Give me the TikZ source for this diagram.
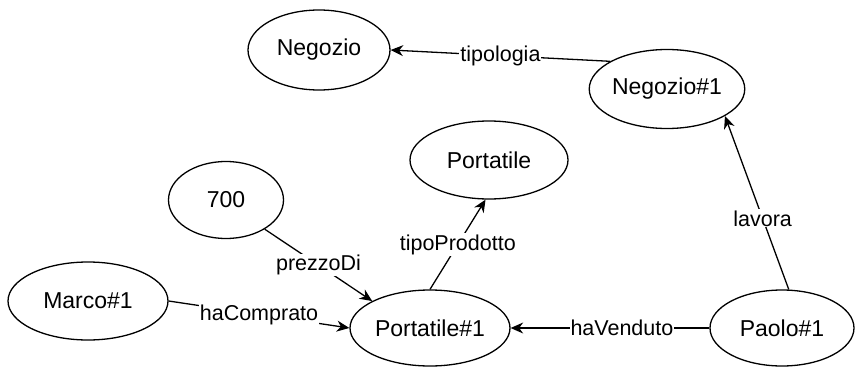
\documentclass[tikz,border=0pt]{standalone}
\usepackage{fontspec}
\setmainfont{Liberation Sans}
\usetikzlibrary{shapes.geometric,arrows.meta}
\begin{document}
\begin{tikzpicture}[x=1pt,y=-1pt,
  entity/.style={ellipse,draw,line width=1.3pt,inner sep=0pt,
    font=\fontsize{23}{27}\selectfont},
  rel/.style={draw,line width=1.3pt,-{Stealth[length=12.5pt,width=11pt,inset=4pt]}},
  lbl/.style={fill=white,inner sep=1pt,font=\fontsize{21.5}{25}\selectfont}]
\useasboundingbox (0,0) rectangle (862,369);

% entities
\node[entity,minimum width=142pt,minimum height=80pt] (neg)   at (319,50)  {Negozio};
\node[entity,minimum width=155pt,minimum height=79pt] (n1)    at (667,89)  {Negozio\#1};
\node[entity,minimum width=158pt,minimum height=78pt] (port)  at (489,160) {Portatile};
\node[entity,minimum width=115pt,minimum height=77pt] (s700)  at (226,200) {700};
\node[entity,minimum width=160pt,minimum height=78pt] (marco) at (88,301)  {Marco\#1};
\node[entity,minimum width=160pt,minimum height=76pt] (p1)    at (430,328) {Portatile\#1};
\node[entity,minimum width=144pt,minimum height=76pt] (paolo) at (782,328) {Paolo\#1};

% relations
\draw[rel] (n1.154) -- node[lbl]{tipologia} (neg.east);
\draw[rel] (paolo.80) -- node[lbl,pos=0.41]{lavora} (n1.-25);
\draw[rel] (paolo.west) -- node[lbl,pos=0.44]{haVenduto} (p1.east);
\draw[rel] (marco.east) -- node[lbl]{haComprato} (p1.west);
\draw[rel] (s700.-37) -- node[lbl]{prezzoDi} (p1.155);
\draw[rel] (p1.north) -- node[lbl]{tipoProdotto} (port.-95);
\end{tikzpicture}
\end{document}
